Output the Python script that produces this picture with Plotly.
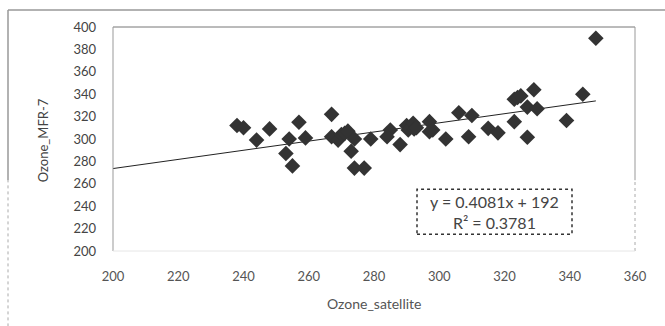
import plotly.graph_objects as go

sat = [238, 240, 244, 248, 253, 254, 255, 257, 259, 267, 267, 269, 270, 271, 272, 273,
       274, 274, 277, 279, 285, 284, 288, 290, 290.5, 292, 292.3, 293, 297, 297, 298,
       302, 306, 309, 310, 315, 318, 323, 324, 325, 323, 327, 327, 329, 330, 339, 344, 348]
mfr = [312, 310, 299, 309, 287, 300, 276, 315, 301, 322, 302, 299, 304, 305, 307, 289,
       300, 274, 274, 300, 308, 302, 295, 312, 308, 314, 309, 310, 315.5, 306.5, 308,
       300, 323.5, 302, 321, 309.5, 305.5, 335.5, 337, 338.5, 315.5, 328.5, 301.5, 344, 327, 316.5, 340, 390]

slope = 0.4081
intercept = 192
eq_text = "y = 0.4081x + 192<br>R² = 0.3781"
x_ticks = [200, 220, 240, 260, 280, 300, 320, 340, 360]
y_ticks = [200, 220, 240, 260, 280, 300, 320, 340, 360, 380, 400]

fx = [200, max(sat)]
fy = [slope * v + intercept for v in fx]

font = "Lato, Open Sans, sans-serif"
tc = "#4a4a4a"

fig = go.Figure()
fig.add_trace(go.Scatter(x=fx, y=fy, mode="lines", line=dict(color="#222222", width=1),
                         showlegend=False, hoverinfo="skip"))
fig.add_trace(go.Scatter(x=sat, y=mfr, mode="markers",
                         marker=dict(symbol="diamond", size=12, color="#333333"),
                         showlegend=False))

W, H = 665, 326
L, R, T, B = 113, 635, 27, 250.7
pw, ph = R - L, B - T
def px(x): return (x - L) / pw
def py(y): return (B - y) / ph

fig.update_layout(
    width=W, height=H,
    margin=dict(l=L, r=W - R, t=T, b=H - B),
    paper_bgcolor="white", plot_bgcolor="white",
    font=dict(family=font, size=13, color=tc),
    xaxis=dict(range=[200, 360], tickvals=x_ticks, showgrid=False, zeroline=False,
               showline=False, ticks="", ticklabelstandoff=16,
               tickfont=dict(size=13, color="#555555")),
    yaxis=dict(range=[200, 400], tickvals=y_ticks, showgrid=False, zeroline=False,
               showline=False, ticks="", ticklabelstandoff=16,
               tickfont=dict(size=13, color="#444444")),
    shapes=[
        # plot area frame
        dict(type="line", xref="paper", yref="paper", x0=0, x1=1, y0=1, y1=1,
             line=dict(color="#777777", width=1)),
        dict(type="line", xref="paper", yref="paper", x0=0, x1=0, y0=0, y1=1,
             line=dict(color="#999999", width=1)),
        dict(type="line", xref="paper", yref="paper", x0=1, x1=1, y0=py(180), y1=1,
             line=dict(color="#999999", width=1)),
        dict(type="line", xref="paper", yref="paper", x0=1, x1=1, y0=0, y1=py(180),
             line=dict(color="#aaaaaa", width=1, dash="dot")),
        dict(type="line", xref="paper", yref="paper", x0=0, x1=1, y0=0, y1=0,
             line=dict(color="#e6e6e6", width=1)),
        # outer chart border
        dict(type="line", xref="paper", yref="paper", x0=px(8), x1=px(665), y0=py(10), y1=py(10),
             line=dict(color="#999999", width=1.5)),
        dict(type="line", xref="paper", yref="paper", x0=px(8), x1=px(8), y0=py(180), y1=py(10),
             line=dict(color="#999999", width=1.5)),
        dict(type="line", xref="paper", yref="paper", x0=px(8), x1=px(8), y0=py(326), y1=py(180),
             line=dict(color="#aaaaaa", width=1, dash="dot")),
        # equation box
        dict(type="rect", xref="paper", yref="paper", x0=px(417), x1=px(572), y0=py(234), y1=py(189),
             line=dict(color="#333333", width=1.5, dash="dot"), fillcolor="white"),
    ],
    annotations=[
        dict(text=eq_text, xref="paper", yref="paper", x=px(494.5), y=py(211.5),
             xanchor="center", yanchor="middle",
             showarrow=False, font=dict(size=16, color="#444444"), align="center"),
        dict(text="Ozone_satellite", xref="paper", yref="paper", x=px(374), y=py(303),
             xanchor="center", yanchor="middle",
             showarrow=False, font=dict(size=14, color="#555555")),
        dict(text="Ozone_MFR-7", xref="paper", yref="paper", x=px(43), y=py(140),
             xanchor="center", yanchor="middle",
             showarrow=False, textangle=-90, font=dict(size=13, color="#444444")),
    ],
)

fig.write_html("out.html")
